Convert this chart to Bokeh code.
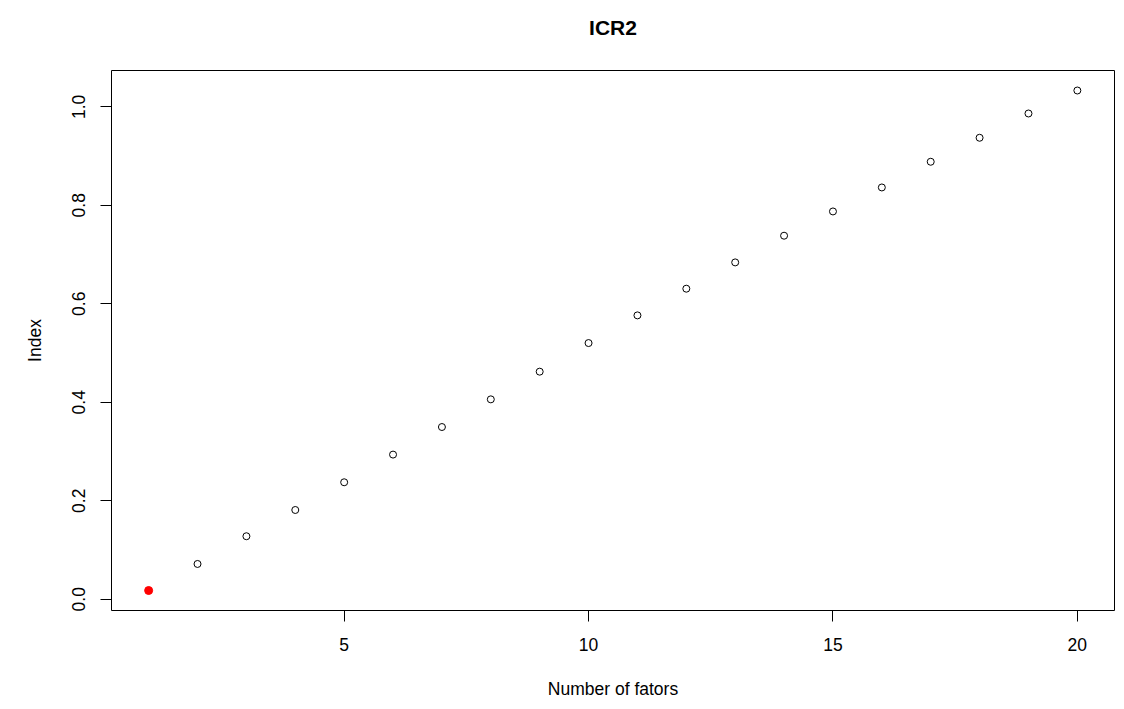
from bokeh.plotting import figure
from bokeh.models import Range1d, FixedTicker, PrintfTickFormatter, ColumnDataSource
from bokeh.embed import file_html
from bokeh.resources import INLINE

# ---- data ----
factors = list(range(1, 21))
index_values = [0.0177, 0.0716, 0.1279, 0.1812, 0.2375, 0.2937, 0.3497, 0.4059,
                0.4621, 0.5202, 0.5764, 0.6306, 0.6840, 0.7382, 0.7875, 0.8362,
                0.8884, 0.9371, 0.9864, 1.0331]
selected_factor = 1
x_ticks = [5, 10, 15, 20]
y_ticks = [0.0, 0.2, 0.4, 0.6, 0.8, 1.0]
title_text = "ICR2"
x_label = "Number of fators"
y_label = "Index"

FONT = "Liberation Sans"

# R style 4% range extension
def ext(vals):
    lo, hi = min(vals), max(vals)
    d = (hi - lo) * 0.04
    return lo - d, hi + d

xlo, xhi = ext(factors)
ylo, yhi = ext(index_values)

p = figure(width=1116, height=701, output_backend="svg", toolbar_location=None,
           x_range=Range1d(xlo, xhi), y_range=Range1d(ylo, yhi),
           min_border_left=111, min_border_right=2, min_border_top=70, min_border_bottom=89)

# trailing empty line lifts the title away from the box, as in R's layout
p.title.text = title_text + "\n"
p.title.text_font = FONT
p.title.text_font_size = "21px"
p.title.text_font_style = "bold"
p.title.align = "center"
p.title.text_color = "black"
p.title.standoff = 17

p.xgrid.visible = False
p.ygrid.visible = False
p.outline_line_color = "black"
p.outline_line_width = 1
p.background_fill_color = "white"
p.border_fill_color = "white"

for ax in (p.xaxis[0], p.yaxis[0]):
    ax.axis_line_color = None
    ax.major_tick_line_color = "black"
    ax.major_tick_line_width = 1
    ax.major_tick_out = 11
    ax.major_tick_in = 0
    ax.minor_tick_line_color = None
    ax.major_label_text_font = FONT
    ax.major_label_text_font_size = "17.5px"
    ax.major_label_text_color = "black"
    ax.axis_label_text_font = FONT
    ax.axis_label_text_font_size = "17.5px"
    ax.axis_label_text_font_style = "normal"
    ax.axis_label_text_color = "black"

p.xaxis.ticker = FixedTicker(ticks=x_ticks)
p.yaxis.ticker = FixedTicker(ticks=y_ticks)
p.yaxis.formatter = PrintfTickFormatter(format="%.1f")
p.yaxis.major_label_orientation = "vertical"
p.xaxis.axis_label = x_label
p.yaxis.axis_label = y_label
p.xaxis.major_label_standoff = 16
p.yaxis.major_label_standoff = 15
p.xaxis.axis_label_standoff = 25
p.yaxis.axis_label_standoff = 25

others = [f != selected_factor for f in factors]
src_open = ColumnDataSource(dict(x=[f for f, o in zip(factors, others) if o],
                                 y=[v for v, o in zip(index_values, others) if o]))
src_sel = ColumnDataSource(dict(x=[f for f, o in zip(factors, others) if not o],
                                y=[v for v, o in zip(index_values, others) if not o]))

p.scatter("x", "y", source=src_open, marker="circle", size=7, fill_color=None,
          line_color="black", line_width=1)
p.scatter("x", "y", source=src_sel, marker="circle", size=8, fill_color="red",
          line_color="red", line_width=1)

open("out.html", "w").write(file_html(p, INLINE))
